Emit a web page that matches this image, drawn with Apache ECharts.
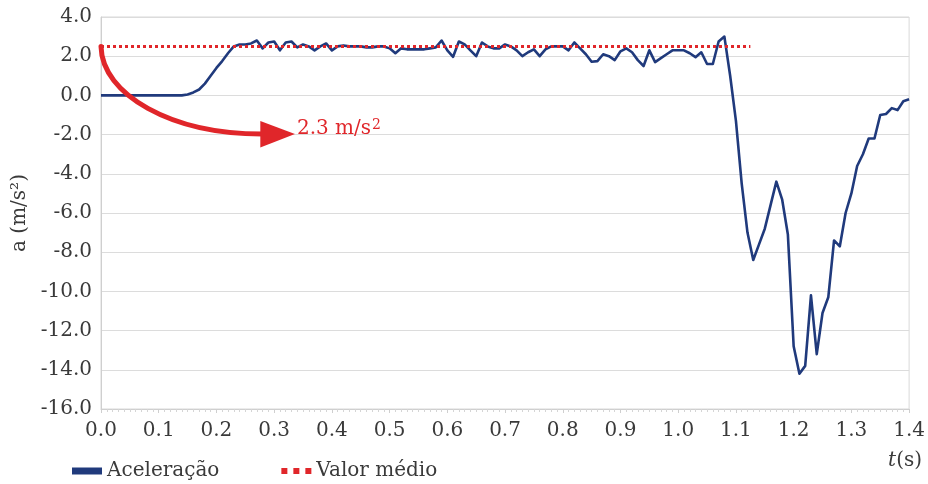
<!DOCTYPE html>
<html>
<head>
<meta charset="utf-8">
<script src="https://cdn.jsdelivr.net/npm/echarts@6/dist/echarts.min.js"></script>
<style>
  html, body { margin: 0; padding: 0; background: #fff; }
  #chart { width: 928px; height: 484px; }
</style>
</head>
<body>
<div id="chart"></div>
<script>
// ---- data ----
const timeS = [
  0.00,0.01,0.02,0.03,0.04,0.05,0.06,0.07,0.08,0.09,
  0.10,0.11,0.12,0.13,0.14,0.15,0.16,0.17,0.18,0.19,
  0.20,0.21,0.22,0.23,0.24,0.25,0.26,0.27,0.28,0.29,
  0.30,0.31,0.32,0.33,0.34,0.35,0.36,0.37,0.38,0.39,
  0.40,0.41,0.42,0.43,0.44,0.45,0.46,0.47,0.48,0.49,
  0.50,0.51,0.52,0.53,0.54,0.55,0.56,0.57,0.58,0.59,
  0.60,0.61,0.62,0.63,0.64,0.65,0.66,0.67,0.68,0.69,
  0.70,0.71,0.72,0.73,0.74,0.75,0.76,0.77,0.78,0.79,
  0.80,0.81,0.82,0.83,0.84,0.85,0.86,0.87,0.88,0.89,
  0.90,0.91,0.92,0.93,0.94,0.95,0.96,0.97,0.98,0.99,
  1.00,1.01,1.02,1.03,1.04,1.05,1.06,1.07,1.08,1.09,
  1.10,1.11,1.12,1.13,1.14,1.15,1.16,1.17,1.18,1.19,
  1.20,1.21,1.22,1.23,1.24,1.25,1.26,1.27,1.28,1.29,
  1.30,1.31,1.32,1.33,1.34,1.35,1.36,1.37,1.38,1.39,
  1.40
];
const acceleration = [
  0,0,0,0,0,0,0,0,0,0,
  0,0,0,0,0,0.05,0.15,0.3,0.6,1.0,
  1.4,1.75,2.15,2.5,2.6,2.6,2.65,2.8,2.4,2.7,
  2.75,2.3,2.7,2.75,2.45,2.6,2.5,2.3,2.5,2.65,
  2.3,2.5,2.55,2.5,2.5,2.5,2.45,2.45,2.5,2.5,
  2.4,2.15,2.4,2.35,2.35,2.35,2.35,2.4,2.45,2.8,
  2.3,1.97,2.75,2.6,2.3,2.0,2.7,2.5,2.4,2.4,
  2.6,2.5,2.3,2.0,2.2,2.35,2.0,2.35,2.5,2.5,
  2.5,2.3,2.7,2.4,2.1,1.72,1.75,2.1,2.0,1.8,
  2.25,2.4,2.2,1.8,1.5,2.3,1.7,1.9,2.1,2.3,
  2.3,2.3,2.15,1.95,2.2,1.6,1.6,2.75,3.0,1.0,
  -1.3,-4.5,-7.0,-8.4,-7.6,-6.8,-5.6,-4.4,-5.3,-7.1,
  -12.8,-14.2,-13.8,-10.2,-13.2,-11.1,-10.3,-7.4,-7.7,-6.0,
  -5.0,-3.6,-3.0,-2.2,-2.2,-1.0,-0.95,-0.65,-0.75,-0.3,
  -0.2
];
const meanValue = 2.5;
const meanSpan = [0, 1.125];
const seriesNames = ['Aceleração', 'Valor médio'];
const yTicks = { min: -16, max: 4, step: 2 };
const xTicks = { min: 0, max: 1.4, step: 0.1 };
const annotationText = '2.3 m/s';
const annotationSup = '2';

// ---- chart ----
const FONT = 'DejaVu Serif';
const TXT = '#3a3a3a';
const RED = '#e0262a';
const chart = echarts.init(document.getElementById('chart'), null, { renderer: 'canvas' });

const accelData = timeS.map((t, i) => [t, acceleration[i]]);
const meanData = meanSpan.map(t => [t, meanValue]);

chart.setOption({
  animation: false,
  backgroundColor: '#ffffff',
  grid: {
    left: 101, right: 11, top: 17, bottom: 75,
    show: true, borderColor: '#d9d9d9', borderWidth: 1
  },
  legend: {
    left: 67, top: 456,
    itemWidth: 30, itemHeight: 7, itemGap: 62,
    textStyle: { fontFamily: FONT, fontSize: 20, color: TXT },
    data: [
      { name: seriesNames[0], icon: 'rect' },
      { name: seriesNames[1], icon: 'path://M0,0h3v3h-3zM6,0h3v3h-3zM12,0h3v3h-3z' }
    ]
  },
  xAxis: {
    type: 'value',
    min: xTicks.min, max: xTicks.max, interval: xTicks.step,
    axisLine: { show: true, onZero: false, lineStyle: { color: '#cfcfcf' } },
    axisTick: { show: true, length: 4, lineStyle: { color: '#cfcfcf' } },
    minorTick: { show: true, splitNumber: 10, length: 3, lineStyle: { color: '#d5d5d5' } },
    splitLine: { show: false },
    axisLabel: {
      margin: 12, fontFamily: FONT, fontSize: 20, color: TXT,
      formatter: v => v.toFixed(1)
    }
  },
  yAxis: {
    type: 'value',
    min: yTicks.min, max: yTicks.max, interval: yTicks.step,
    name: 'a (m/s²)', nameLocation: 'middle', nameGap: 67, nameRotate: 90,
    nameTextStyle: { fontFamily: FONT, fontSize: 20, color: TXT },
    axisLine: { show: true, onZero: false, lineStyle: { color: '#cfcfcf' } },
    axisTick: { show: false },
    splitLine: { show: true, lineStyle: { color: '#dcdcdc', width: 1 } },
    axisLabel: {
      margin: 9, fontFamily: FONT, fontSize: 20, color: TXT,
      formatter: v => v.toFixed(1)
    }
  },
  series: [
    {
      name: seriesNames[0], type: 'line', data: accelData,
      showSymbol: false, symbol: 'none', z: 3,
      itemStyle: { color: '#203a7c' },
      lineStyle: { color: '#203a7c', width: 2.6, join: 'round' }
    },
    {
      name: seriesNames[1], type: 'line', data: meanData,
      showSymbol: false, symbol: 'none', z: 4,
      itemStyle: { color: RED },
      lineStyle: { color: RED, width: 3, type: [3, 3], cap: 'butt' }
    }
  ]
});

// annotation (curved arrow) anchored in data coordinates
const P = p => chart.convertToPixel({ gridIndex: 0 }, p);
const start = P([0, meanValue]);
const shaftEnd = P([0.272, -1.97]);
const tip = P([0.336, -1.97]);
const headTop = P([0.276, -1.3]);
const headBot = P([0.276, -2.66]);
const rx = shaftEnd[0] - start[0], ry = shaftEnd[1] - start[1];
const k = 0.552;

chart.setOption({
  graphic: [
    {
      type: 'bezierCurve', z: 10,
      shape: {
        x1: start[0], y1: start[1],
        cpx1: start[0] + 1, cpy1: start[1] + k * ry,
        cpx2: shaftEnd[0] - k * rx, cpy2: shaftEnd[1],
        x2: shaftEnd[0] + 4, y2: shaftEnd[1]
      },
      style: { stroke: RED, lineWidth: 5, fill: null, lineCap: 'round' }
    },
    {
      type: 'polygon', z: 10,
      shape: { points: [headTop, tip, headBot] },
      style: { fill: RED }
    },
    {
      type: 'text', z: 10,
      left: tip[0] + 2, top: tip[1] - 16,
      style: {
        text: annotationText + '{s|' + annotationSup + '}',
        fill: RED, font: '20px "DejaVu Serif"',
        rich: { s: { fontFamily: FONT, fontSize: 14, fill: RED, verticalAlign: 'top', padding: [0, 0, 8, 1] } }
      }
    },
    {
      type: 'text', z: 10,
      right: 6, top: 451,
      style: {
        text: '{i|t}(s)',
        fill: TXT, font: '20px "DejaVu Serif"',
        rich: { i: { fontStyle: 'italic', fontFamily: FONT, fontSize: 20, fill: TXT } }
      }
    }
  ]
});
</script>
</body>
</html>
